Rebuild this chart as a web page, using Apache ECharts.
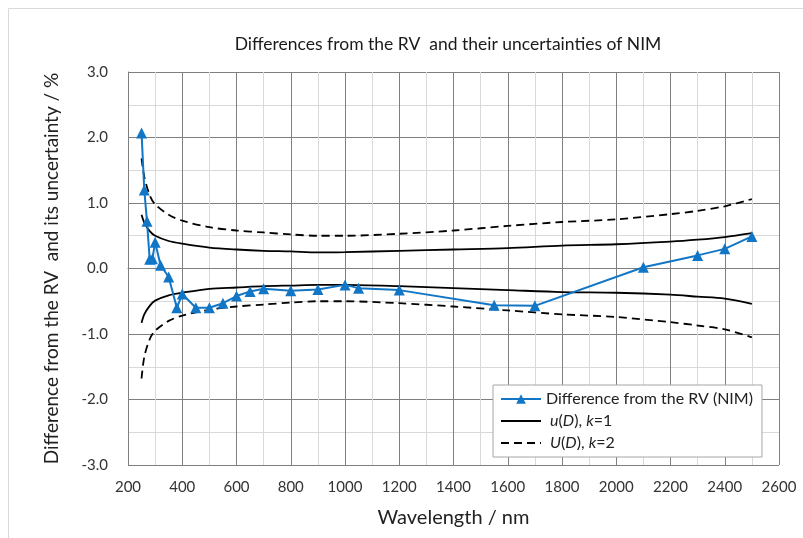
<!DOCTYPE html>
<html>
<head>
<meta charset="utf-8">
<script src="https://cdn.jsdelivr.net/npm/echarts@6/dist/echarts.min.js"></script>
<style>
  html, body { margin: 0; padding: 0; background: #fff; }
  #chart { width: 803px; height: 538px; }
</style>
</head>
<body>
<div id="chart"></div>
<script>
// difference from the RV (NIM)
const diffWl = [250, 260, 270, 280, 290, 300, 320, 350, 380, 400, 450, 500, 550, 600, 650, 700,
  800, 900, 1000, 1050, 1200, 1550, 1700, 2100, 2300, 2400, 2500];
const diffVal = [2.07, 1.20, 0.72, 0.14, 0.15, 0.40, 0.05, -0.13, -0.60, -0.39, -0.60, -0.60, -0.53, -0.42, -0.35, -0.31,
  -0.34, -0.32, -0.25, -0.30, -0.33, -0.56, -0.57, 0.02, 0.20, 0.30, 0.49];

// uncertainty curves
const uncWl = [250, 260, 280, 300, 350, 400, 500, 600, 700, 800, 900, 1000, 1200, 1400, 1600, 1800, 2000, 2200, 2300, 2400, 2500];
const uUpper = [0.82, 0.70, 0.57, 0.50, 0.42, 0.38, 0.32, 0.29, 0.27, 0.26, 0.245, 0.25, 0.27, 0.29, 0.31, 0.35, 0.37, 0.41, 0.44, 0.48, 0.54];
const uLower = [-0.83, -0.70, -0.57, -0.49, -0.41, -0.37, -0.31, -0.29, -0.27, -0.26, -0.25, -0.25, -0.27, -0.30, -0.33, -0.36, -0.37, -0.40, -0.43, -0.46, -0.54];
const bigUUpper = [1.68, 1.40, 1.12, 0.98, 0.82, 0.73, 0.63, 0.58, 0.55, 0.52, 0.50, 0.50, 0.53, 0.58, 0.65, 0.71, 0.75, 0.83, 0.88, 0.95, 1.06];
const bigULower = [-1.68, -1.35, -1.08, -0.95, -0.80, -0.72, -0.63, -0.58, -0.55, -0.52, -0.50, -0.50, -0.53, -0.58, -0.64, -0.70, -0.74, -0.82, -0.87, -0.93, -1.05];

const nameDiff = "Difference from the RV (NIM)";
const nameU1 = "u(D), k=1";
const nameU2 = "U(D), k=2";

const font = "Lato";
const pairs = (xs, ys) => xs.map((x, i) => [x, ys[i]]);

const chart = echarts.init(document.getElementById("chart"));

const blackLine = (name, ys, dashed) => ({
  name: name,
  type: "line",
  data: pairs(uncWl, ys),
  symbol: "none",
  smooth: 0.3,
  lineStyle: { color: "#000", width: 1.8, type: dashed ? [8, 5] : "solid" },
  itemStyle: { color: "#000" },
  z: 2
});

const option = {
  animation: false,
  title: {
    text: "Differences from the RV  and their uncertainties of NIM",
    left: 443,
    top: 30,
    textAlign: "center",
    textStyle: { fontFamily: font, fontSize: 17.5, fontWeight: "normal", color: "#1a1a1a" }
  },
  graphic: [{
    type: "rect",
    shape: { x: 8.5, y: 8.5, width: 820, height: 560 },
    style: { fill: "none", stroke: "#d9d9d9", lineWidth: 1 },
    silent: true
  }],
  grid: { left: 128, right: 24, top: 72, bottom: 73 },
  xAxis: {
    type: "value",
    min: 200,
    max: 2600,
    interval: 200,
    name: "Wavelength / nm",
    nameLocation: "middle",
    nameGap: 43,
    nameTextStyle: { fontFamily: font, fontSize: 20, color: "#222" },
    axisLine: { show: true, lineStyle: { color: "#7f7f7f" } },
    axisTick: { show: false },
    axisLabel: { fontFamily: font, fontSize: 15, color: "#333", margin: 15, formatter: v => String(v) },
    splitLine: { show: true, lineStyle: { color: "#7f7f7f", width: 1 } },
    minorTick: { show: false, splitNumber: 2 },
    minorSplitLine: { show: true, lineStyle: { color: "#d9d9d9", width: 1 } }
  },
  yAxis: {
    type: "value",
    min: -3,
    max: 3,
    interval: 1,
    name: "Difference from the RV  and its uncertainty / %",
    nameLocation: "middle",
    nameGap: 67,
    nameTextStyle: { fontFamily: font, fontSize: 19, color: "#222" },
    axisLine: { show: true, lineStyle: { color: "#7f7f7f" } },
    axisTick: { show: false },
    axisLabel: { fontFamily: font, fontSize: 15, color: "#333", margin: 20, formatter: v => v.toFixed(1) },
    splitLine: { show: true, lineStyle: { color: "#7f7f7f", width: 1 } },
    minorTick: { show: false, splitNumber: 2 },
    minorSplitLine: { show: true, lineStyle: { color: "#d9d9d9", width: 1 } }
  },
  legend: {
    orient: "vertical",
    left: 493,
    top: 385,
    data: [
      { name: nameDiff },
      { name: nameU1, itemStyle: { opacity: 0 } },
      { name: nameU2, itemStyle: { opacity: 0 } }
    ],
    backgroundColor: "#fff",
    borderColor: "#a6a6a6",
    borderWidth: 1,
    borderRadius: 0,
    padding: [5, 9, 5, 7],
    itemGap: 4,
    itemWidth: 40,
    itemHeight: 12,
    textStyle: {
      fontFamily: font, fontSize: 16, color: "#222", lineHeight: 18,
      rich: { it: { fontFamily: font, fontSize: 16, fontStyle: "italic", color: "#222", lineHeight: 18 } }
    },
    formatter: name => {
      if (name === nameU1) return " {it|u}({it|D}), {it|k}=1";
      if (name === nameU2) return " {it|U}({it|D}), {it|k}=2";
      return name;
    }
  },
  series: [
    blackLine(nameU1, uUpper, false),
    blackLine(nameU1, uLower, false),
    blackLine(nameU2, bigUUpper, true),
    blackLine(nameU2, bigULower, true),
    {
      name: nameDiff,
      type: "line",
      data: pairs(diffWl, diffVal),
      symbol: "triangle",
      symbolSize: 11,
      lineStyle: { color: "#1276c6", width: 2 },
      itemStyle: { color: "#1276c6" },
      z: 5
    }
  ]
};

chart.setOption(option);
</script>
</body>
</html>
